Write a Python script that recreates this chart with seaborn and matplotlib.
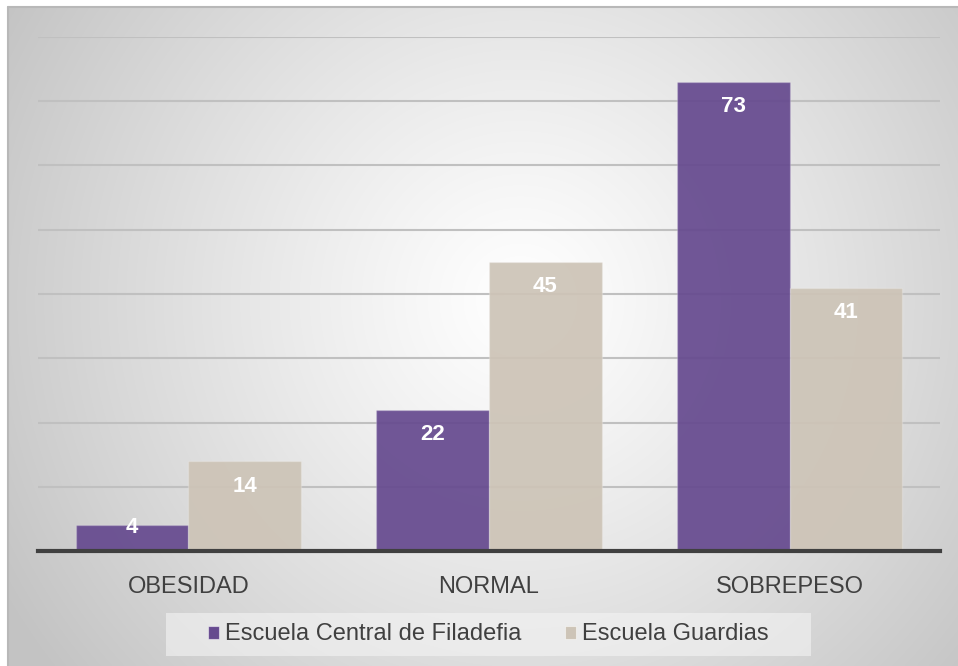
import numpy as np
import pandas as pd
import matplotlib
matplotlib.use("Agg")
import matplotlib.pyplot as plt
from matplotlib.colors import to_rgb
from matplotlib.patches import Rectangle, Patch
import seaborn as sns

# Data
categories = ["OBESIDAD", "NORMAL", "SOBREPESO"]
schools = ["Escuela Central de Filadefia", "Escuela Guardias"]
central_values = [4, 22, 73]
guardias_values = [14, 45, 41]
colors = ["#664a8f", "#cdc4b7"]

df = pd.DataFrame({
    "categoria": categories * 2,
    "escuela": [schools[0]] * 3 + [schools[1]] * 3,
    "valor": central_values + guardias_values,
})

sns.set_theme(style="white")
plt.rcParams["font.family"] = ["Liberation Sans", "DejaVu Sans"]

W, H, DPI = 958, 666, 100
fig = plt.figure(figsize=(W / DPI, H / DPI), dpi=DPI)
fig.patch.set_facecolor("white")

# Radial gradient panel behind the chart
px0, py0 = 8, 7
bw, bh = W - px0, H - py0
bg = fig.add_axes([px0 / W, 0, bw / W, bh / H], zorder=0)
yy, xx = np.mgrid[0:bh, 0:bw]
cx, cy = 520 - px0, 300 - py0
r = np.sqrt(((xx - cx) / 600.0) ** 2 + ((yy - cy) / 600.0) ** 2)
shade = 255 - 60 * np.clip(r, 0, 1) ** 1.15
img = np.dstack([shade, shade, shade]) / 255.0
bg.imshow(img, aspect="auto", interpolation="bilinear")
bg.axis("off")
# darker rim on top and left edges
fig.add_artist(plt.Line2D([px0 / W, 1], [1 - py0 / H, 1 - py0 / H],
                          color="#b8b8b8", lw=1.5, transform=fig.transFigure))
fig.add_artist(plt.Line2D([px0 / W, px0 / W], [0, 1 - py0 / H],
                          color="#b8b8b8", lw=1.5, transform=fig.transFigure))

# Plot area
left, right, top, base = 38, 940, 37, 551
ax = fig.add_axes([left / W, (H - base) / H, (right - left) / W, (base - top) / H], zorder=2)
ax.patch.set_alpha(0)

sns.barplot(data=df, x="categoria", y="valor", hue="escuela", palette=colors,
            width=0.75, saturation=1, linewidth=1, legend=False, ax=ax, zorder=3)

# slightly translucent fills with a faint light outline
for container, c in zip(ax.containers, colors):
    for patch in container.patches:
        patch.set_alpha(None)
        patch.set_facecolor((*to_rgb(c), 0.93))
        patch.set_edgecolor((1, 1, 1, 0.2))

ax.set_xlim(-0.5, 2.5)
ax.set_ylim(0, 80)
ax.set_yticks(np.arange(10, 81, 10))
ax.yaxis.grid(True, color="#c0c0c0", linewidth=1.5, zorder=1)
ax.set_axisbelow(True)
ax.tick_params(axis="y", left=False, labelleft=False)
ax.tick_params(axis="x", bottom=False, labelsize=17, colors="#404040", pad=12)
ax.set_xlabel("")
ax.set_ylabel("")
for s in ["top", "right", "left"]:
    ax.spines[s].set_visible(False)
ax.spines["bottom"].set_color("#404040")
ax.spines["bottom"].set_linewidth(3)
ax.spines["bottom"].set_zorder(5)

# Value labels inside the top of each bar
px_per_unit = (base - top) / 80.0
for container, vals in zip(ax.containers, [central_values, guardias_values]):
    for patch, v in zip(container.patches, vals):
        xc = patch.get_x() + patch.get_width() / 2
        h_px = v * px_per_unit
        off_px = 25 if h_px > 50 else 2
        ax.annotate(f"{v}", (xc, v), xytext=(0, -off_px * 72 / DPI),
                    textcoords="offset points", ha="center", va="center",
                    color="white", fontsize=16, fontweight="bold", zorder=6)

# Legend box and entries
lx0, lx1, ly0, ly1 = 166, 811, 613, 656
fig.add_artist(Rectangle((lx0 / W, 1 - ly1 / H), (lx1 - lx0) / W, (ly1 - ly0) / H,
                         transform=fig.transFigure, facecolor="#f4f4f4",
                         alpha=0.6, edgecolor="none", zorder=1))
handles = [Patch(facecolor=c, edgecolor=(1, 1, 1, 0.5), linewidth=0.8) for c in colors]
fig.legend(handles, schools, loc="center", bbox_to_anchor=((lx0 + lx1) / 2 / W, 1 - (ly0 + ly1) / 2 / H),
           ncol=2, frameon=False, fontsize=17, handlelength=0.47, handleheight=0.47,
           handletextpad=0.25, columnspacing=1.85, labelcolor="#404040")

fig.savefig("out.png", dpi=DPI)
